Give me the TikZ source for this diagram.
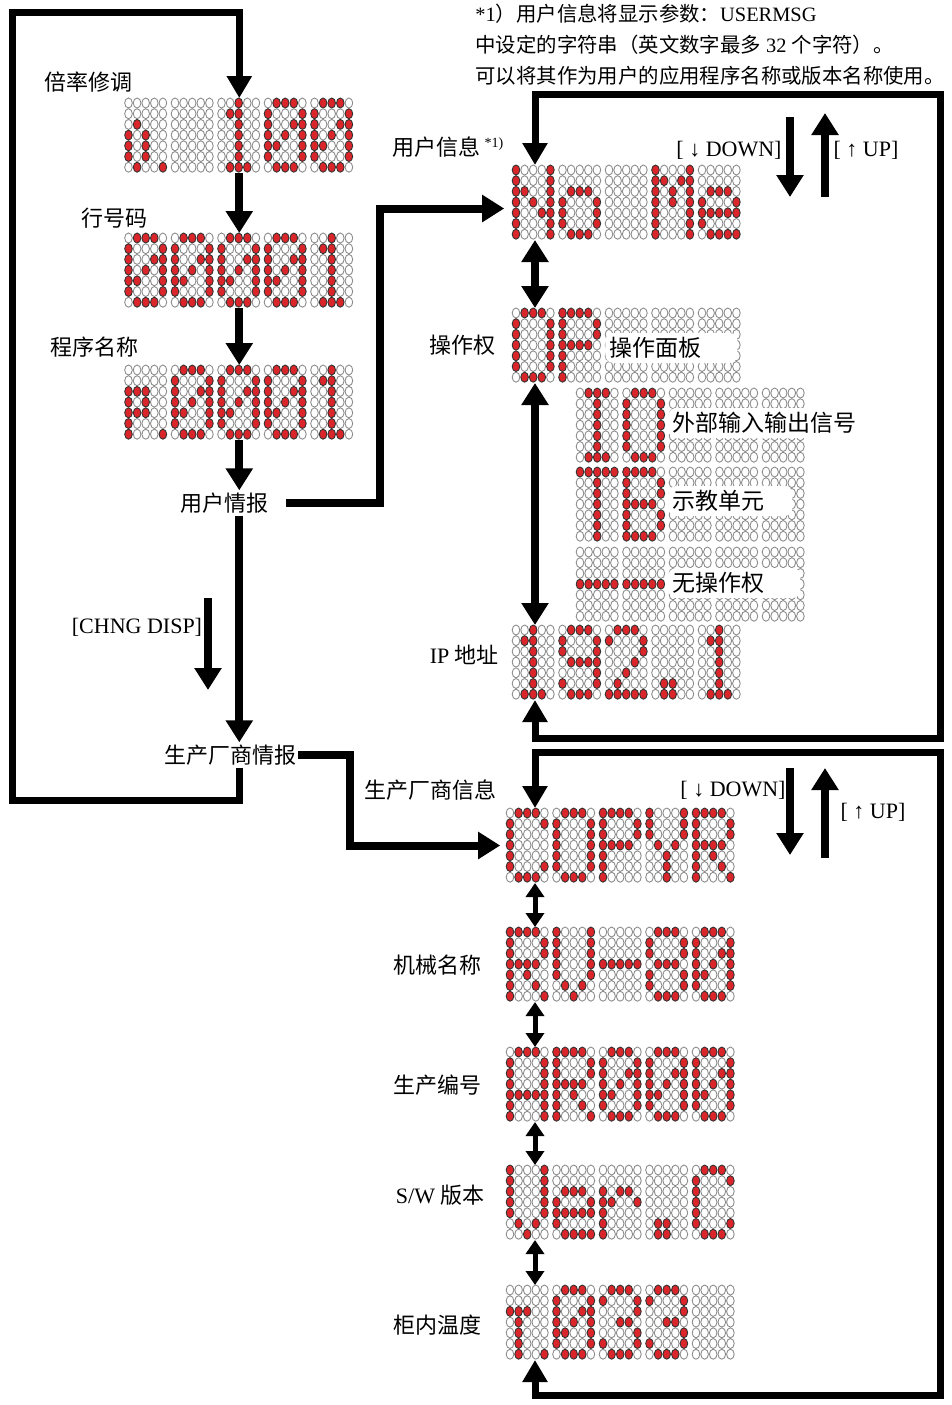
\documentclass[tikz,border=0pt]{standalone}
\usepackage{fontspec}
\setmainfont{Liberation Serif}
\newfontfamily\cjk{Noto Sans CJK SC}
\usepackage{xcolor}
\usepackage{tikz}
\usetikzlibrary{arrows.meta}
\definecolor{ledred}{RGB}{218,37,42}

% dot matrix glyphs, 7 rows of 5 dots, 1 = lit
\newcommand\ledglyph[2]{\expandafter\def\csname led#1\endcsname{#2}}
\ledglyph{sp}{00000,00000,00000,00000,00000,00000,00000}
\ledglyph{0}{01110,10001,10011,10101,11001,10001,01110}
\ledglyph{1}{00100,01100,00100,00100,00100,00100,01110}
\ledglyph{2}{01110,10001,00001,00010,00100,01000,11111}
\ledglyph{3}{01110,10001,00001,00110,00001,10001,01110}
\ledglyph{8}{01110,10001,10001,01110,10001,10001,01110}
\ledglyph{9}{01110,10001,10001,01111,00001,10001,01110}
\ledglyph{A}{01110,10001,10001,10001,11111,10001,10001}
\ledglyph{B}{11110,10001,10001,11110,10001,10001,11110}
\ledglyph{C}{01110,10001,10000,10000,10000,10001,01110}
\ledglyph{D}{01110,10001,10001,10001,10001,10001,01110}
\ledglyph{I}{01110,00100,00100,00100,00100,00100,01110}
\ledglyph{M}{10001,11011,10101,10101,10001,10001,10001}
\ledglyph{N}{10001,10001,11001,10101,10011,10001,10001}
\ledglyph{O}{01110,10001,10001,10001,10001,10001,01110}
\ledglyph{P}{11110,10001,10001,11110,10000,10000,10000}
\ledglyph{R}{11110,10001,10001,11110,10100,10010,10001}
\ledglyph{T}{11111,00100,00100,00100,00100,00100,00100}
\ledglyph{V}{10001,10001,10001,10001,10001,01010,00100}
\ledglyph{Y}{10001,10001,10001,01010,00100,00100,00100}
\ledglyph{e}{00000,00000,01110,10001,11111,10000,01111}
\ledglyph{o}{00000,00000,01110,10001,10001,10001,01110}
\ledglyph{r}{00000,00000,10110,11001,10000,10000,10000}
\ledglyph{od}{00000,00000,01000,10100,10100,10100,01001}
\ledglyph{pd}{00000,00000,11100,10100,11100,10000,10001}
\ledglyph{td}{00000,00000,11100,01000,01000,01000,01001}
\ledglyph{-}{00000,00000,00000,11111,00000,00000,00000}
\ledglyph{.}{00000,00000,00000,00000,00000,01100,01100}

\newcommand\ledrow[7]{%
  \foreach \b [count=\i from 0] in {#3,#4,#5,#6,#7}{%
    \ifnum\b=1 \path[ledon] (#1+\i*8.6,#2) ellipse[x radius=3.8,y radius=5];%
    \else \path[ledoff] (#1+\i*8.6,#2) ellipse[x radius=3.8,y radius=5];\fi}}
\newcommand\ledchar[3]{%
  \edef\ledrows{\csname led#3\endcsname}%
  \foreach \r [count=\j from 0] in \ledrows {%
    \edef\ledtmp{\noexpand\ledrow{#1}{#2+\j*10.7}\r}\ledtmp}}
% name, x and y of the first dot, glyphs
\newcommand\leddisplay[4]{%
  \foreach \ch [count=\k from 0] in {#4}{\ledchar{#2+\k*46.5}{#3}{\ch}}%
  \node[disp,anchor=north west] (#1) at (#2-3.8,#3-5) {};}

\begin{document}
\begin{tikzpicture}[x=0.5pt,y=-0.5pt,
  ledon/.style={fill=ledred,draw=black!80,line width=0.45pt},
  ledoff/.style={fill=white,draw=black!45,line width=0.45pt},
  disp/.style={minimum width=114.2pt,minimum height=37.1pt,inner sep=0pt},
  lbl/.style={inner sep=1pt,font=\fontsize{11}{13}\selectfont\cjk},
  note/.style={anchor=north west,align=left,inner sep=0pt,font=\fontsize{10.2}{15.5}\selectfont},
  tagbox/.style={anchor=west,fill=white,rounded corners=4pt,inner xsep=2pt,inner ysep=1pt,minimum height=15pt,align=left,font=\fontsize{11.5}{13}\selectfont\cjk},
  ar/.style={-{Triangle[width=13pt,length=11pt]},line width=4pt},
  dar/.style={{Triangle[width=13pt,length=11pt]}-{Triangle[width=13pt,length=11pt]},line width=4pt},
  sdar/.style={{Triangle[width=9pt,length=7pt]}-{Triangle[width=9pt,length=7pt]},line width=2.5pt},
  loopar/.style={line width=3.5pt}]
  \useasboundingbox (0,0) rectangle (952,1405);

  % left column
  \leddisplay{rate}{128.5}{103}{od,sp,1,0,0}
  \leddisplay{line}{128.5}{238}{0,0,0,0,1}
  \leddisplay{prog}{128.5}{370}{pd,0,0,0,1}
  \node[lbl] (lrate) at (89,82) {倍率修调};
  \node[lbl] (lline) at (115,218) {行号码};
  \node[lbl] (lprog) at (94,347) {程序名称};
  \node[lbl] (uinfo) at (224,503) {用户情报};
  \node[lbl] (chng) at (137,627) {\rmfamily [CHNG DISP]};
  \node[lbl] (mfr) at (230,755) {生产厂商情报};

  % user message column
  \leddisplay{umsg}{516}{170}{N,o,sp,M,e}
  \leddisplay{op}{516}{313}{O,P,sp,sp,sp}
  \leddisplay{opio}{580}{393}{I,D,sp,sp,sp}
  \leddisplay{optb}{580}{472}{T,B,sp,sp,sp}
  \leddisplay{opnone}{580}{552}{-,-,sp,sp,sp}
  \leddisplay{ip}{516}{630}{1,9,2,.,1}
  \node[tagbox,text width=62pt] (tpanel) at (605,348) {操作面板};
  \node[tagbox,text width=93pt] (tio) at (668,423) {外部输入输出信号};
  \node[tagbox,text width=58pt] (ttb) at (668,501) {示教单元};
  \node[tagbox,text width=62pt] (tnone) at (668,583) {无操作权};
  \node[lbl] (lumsg) at (448,147) {用户信息\,\raisebox{.7ex}{\fontsize{7}{8}\selectfont\rmfamily *1)}};
  \node[lbl] (lop) at (462,345) {操作权};
  \node[lbl] (lip) at (464,655) {{\rmfamily IP} 地址};
  \node[lbl] (dn1) at (729,150) {\rmfamily [ ↓ DOWN]};
  \node[lbl] (up1) at (866,150) {\rmfamily [ ↑ UP]};
  \node[note] (fn) at (475,4) {{\rmfamily *1}{\cjk ）用户信息将显示参数：}USERMSG\\
    {\cjk 中设定的字符串（英文数字最多} 32 {\cjk 个字符）。}\\
    {\cjk 可以将其作为用户的应用程序名称或版本名称使用。}};

  % maker column
  \leddisplay{copy}{510}{813}{C,O,P,Y,R}
  \leddisplay{robot}{510}{932}{R,V,-,8,0}
  \leddisplay{serial}{510}{1052}{A,R,0,0,0}
  \leddisplay{ver}{510}{1170}{V,e,r,.,C}
  \leddisplay{temp}{510}{1290}{td,0,3,3,sp}
  \node[lbl] (lmfr) at (430,790) {生产厂商信息};
  \node[lbl] (lrobot) at (437,965) {机械名称};
  \node[lbl] (lserial) at (437,1085) {生产编号};
  \node[lbl] (lver) at (440,1195) {{\rmfamily S/W} 版本};
  \node[lbl] (ltemp) at (437,1325) {柜内温度};
  \node[lbl] (dn2) at (733,790) {\rmfamily [ ↓ DOWN]};
  \node[lbl] (up2) at (873,812) {\rmfamily [ ↑ UP]};

  \coordinate (lc1) at (12,800);
  \coordinate (lc2) at (12,12);
  \coordinate (ux) at (535,0);
  \coordinate (ub) at (380,0);
  \coordinate (mb) at (350,0);
  \coordinate (rc1) at (940,738);
  \coordinate (rc2) at (940,94);
  \coordinate (rc3) at (940,1395);
  \coordinate (rc4) at (940,752);
  \coordinate (ck1) at (208,598);
  \coordinate (ck2) at (208,690);
  \coordinate (da1) at (790,117);
  \coordinate (da2) at (790,197);
  \coordinate (ua1) at (825,197);
  \coordinate (ua2) at (825,113);
  \coordinate (db1) at (790,768);
  \coordinate (db2) at (790,855);
  \coordinate (ub1) at (825,858);
  \coordinate (ub2) at (825,768);

  \draw[loopar,-{Triangle[width=12pt,length=11pt]}] (mfr.south -| rate) -- (lc1 -| rate) -- (lc1) -- (lc2) -| (rate.north);
  \draw[ar] (rate) -- (line);
  \draw[ar] (line) -- (prog);
  \draw[ar] (prog) -- (uinfo.north -| prog);
  \draw[ar] (uinfo.south -| rate) -- (mfr.north -| rate);
  \draw[ar] (ck1) -- (ck2);
  \draw[ar,shorten >=4pt] ([xshift=8pt]uinfo.east) -| ([yshift=-3pt]umsg.west -| ub) -- ([yshift=-3pt]umsg.west);
  \draw[ar,shorten >=3pt] (mfr.east) -| (copy.west -| mb) -- (copy.west);

  \draw[loopar,{Triangle[width=12pt,length=11pt]}-{Triangle[width=12pt,length=11pt]}] (ip.south -| ux) |- (rc1) |- (rc2) -| (umsg.north -| ux);
  \draw[dar] (umsg.south -| ux) -- (op.north -| ux);
  \draw[dar] (op.south -| ux) -- (ip.north -| ux);
  \draw[ar] (da1) -- (da2);
  \draw[ar] (ua1) -- (ua2);

  \draw[loopar,{Triangle[width=12pt,length=11pt]}-{Triangle[width=12pt,length=11pt]}] (temp.south -| ux) |- (rc3) |- (rc4) -| (copy.north -| ux);
  \draw[sdar] (copy.south -| ux) -- (robot.north -| ux);
  \draw[sdar] (robot.south -| ux) -- (serial.north -| ux);
  \draw[sdar] (serial.south -| ux) -- (ver.north -| ux);
  \draw[sdar] (ver.south -| ux) -- (temp.north -| ux);
  \draw[ar] (db1) -- (db2);
  \draw[ar] (ub1) -- (ub2);
\end{tikzpicture}
\end{document}
